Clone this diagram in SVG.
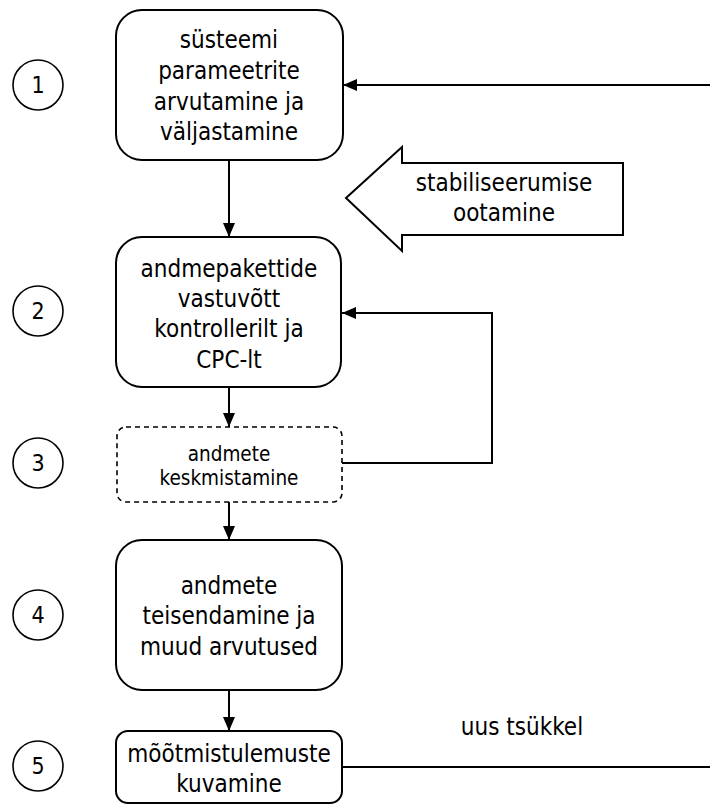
<svg xmlns="http://www.w3.org/2000/svg" width="710" height="805" viewBox="0 0 710 805">
<style>
.box{fill:#fff;stroke:#000;stroke-width:2}
.dash{stroke-dasharray:5 4;stroke-width:1.6}
.num{fill:#fff;stroke:#000;stroke-width:1.6}
text{font-family:"DejaVu Sans Condensed","DejaVu Sans",sans-serif;fill:#000;text-anchor:middle}
.t{font-size:24px}
.s{font-size:20.5px}
.n{font-size:23px}
.c{fill:none;stroke:#000;stroke-width:2}
</style>
<defs>
<marker id="ah" markerWidth="14" markerHeight="12" refX="14" refY="6" orient="auto" markerUnits="userSpaceOnUse">
<path d="M0,0 L14,6 L0,12 Z" fill="#000"/>
</marker>
</defs>
<g id="connectors">
<line class="c" x1="229" y1="160" x2="229" y2="237" marker-end="url(#ah)"/>
<line class="c" x1="229" y1="387" x2="229" y2="427" marker-end="url(#ah)"/>
<line class="c" x1="229" y1="502" x2="229" y2="540" marker-end="url(#ah)"/>
<line class="c" x1="229" y1="690" x2="229" y2="731" marker-end="url(#ah)"/>
<polyline class="c" points="342,463 492,463 492,313 342,313" marker-end="url(#ah)"/>
<line class="c" x1="342" y1="767" x2="710" y2="767"/>
<line class="c" x1="710" y1="85" x2="343" y2="85" marker-end="url(#ah)"/>
<text class="t" x="522" y="735">uus tsükkel</text>
</g>
<g id="n1">
<rect class="box" x="116" y="10" width="227" height="150" rx="26"/>
<text class="t" x="229" y="48">süsteemi</text>
<text class="t" x="229" y="79">parameetrite</text>
<text class="t" x="229" y="110">arvutamine ja</text>
<text class="t" x="229" y="140">väljastamine</text>
</g>
<g id="n2">
<rect class="box" x="116" y="237" width="225" height="150" rx="26"/>
<text class="t" x="229" y="277">andmepakettide</text>
<text class="t" x="229" y="307">vastuvõtt</text>
<text class="t" x="229" y="337">kontrollerilt ja</text>
<text class="t" x="229" y="368">CPC-lt</text>
</g>
<g id="n3">
<rect class="box dash" x="117" y="427" width="225" height="75" rx="9"/>
<text class="s" x="229" y="461">andmete</text>
<text class="s" x="229" y="485">keskmistamine</text>
</g>
<g id="n4">
<rect class="box" x="116" y="540" width="226" height="150" rx="26"/>
<text class="t" x="229" y="594">andmete</text>
<text class="t" x="229" y="624">teisendamine ja</text>
<text class="t" x="229" y="655">muud arvutused</text>
</g>
<g id="n5">
<rect class="box" x="116" y="731" width="226" height="72" rx="12"/>
<text class="t" x="229" y="762">mõõtmistulemuste</text>
<text class="t" x="229" y="792">kuvamine</text>
</g>
<g id="wait">
<polygon class="box" points="346,198 402,147 402,163 623,163 623,235 402,235 402,251"/>
<text class="t" x="504" y="191">stabiliseerumise</text>
<text class="t" x="504" y="221">ootamine</text>
</g>
<g id="c1"><circle class="num" cx="38" cy="85" r="25"/><text class="n" x="38" y="93">1</text></g>
<g id="c2"><circle class="num" cx="38" cy="311" r="25"/><text class="n" x="38" y="319">2</text></g>
<g id="c3"><circle class="num" cx="38" cy="463" r="25"/><text class="n" x="38" y="471">3</text></g>
<g id="c4"><circle class="num" cx="38" cy="615" r="25"/><text class="n" x="38" y="623">4</text></g>
<g id="c5"><circle class="num" cx="38" cy="766" r="25"/><text class="n" x="38" y="774">5</text></g>
</svg>
